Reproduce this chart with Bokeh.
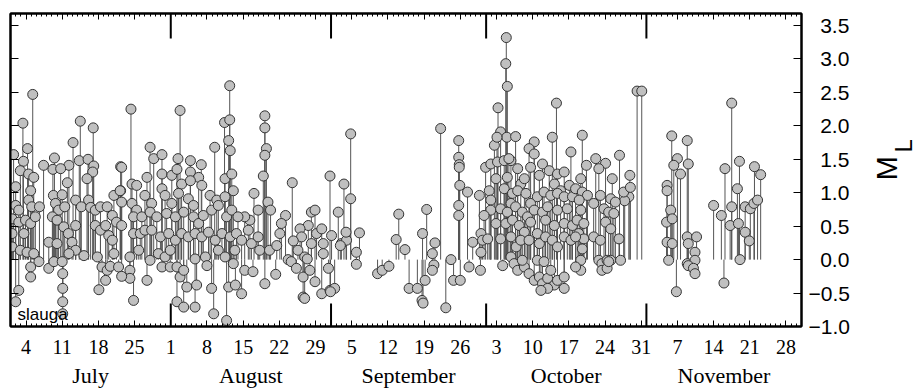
import math
from bokeh.plotting import figure
from bokeh.layouts import row, column
from bokeh.models import Range1d, LinearAxis, FixedTicker, Label
from bokeh.core.properties import value
from bokeh.embed import file_html
from bokeh.resources import INLINE

# ---------------- data ----------------
# event time: days since 1 July (fractional), local magnitude M_L
day = [
    # July
    4.3, 2.4, 13.5, 16.0, 12.1, 3.3, 0.6, 8.5, 2.5, 6.4, 11.3, 13.3, 15.0, 16.1, 8.2, 9.7,
    1.9, 3.5, 4.5, 15.9, 11.0, 14.8, 21.3, 1.0, 3.9, 8.3, 10.0, 12.6, 15.1, 20.0, 21.3,
    1.0, 1.6, 3.5, 4.1, 5.6, 8.7, 9.3, 10.5, 13.7, 15.5, 16.4, 17.4, 18.7, 19.7, 20.5,
    0.3, 1.6, 2.9, 3.9, 4.8, 8.1, 9.0, 10.3, 11.2, 12.6, 16.4, 17.4, 18.4, 19.0, 19.7,
    0.3, 2.6, 7.4, 9.0, 11.9, 12.6, 0.3, 1.9, 3.2, 4.5, 5.5, 3.9, 7.4, 8.4, 10.0, 11.3,
    14.2, 10.1, 10.1, 10.1, 10.1, 16.8, 17.7, 18.7, 18.4, 17.1, 3.9, 1.6, 1.0, 20.0, 19.3,
    # late July - mid August
    42.4, 23.3, 32.8, 41.4, 42.4, 39.5, 42.2, 42.5, 27.0, 27.7, 29.3, 32.4, 34.8, 36.9,
    21.5, 29.3, 31.2, 32.2, 34.8, 36.4, 26.4, 41.5, 42.8, 23.5, 24.4, 33.1, 34.8, 37.0,
    21.2, 21.5, 26.0, 27.3, 29.3, 29.9, 31.2, 32.5, 34.4, 35.4, 38.6, 39.9, 41.5, 43.1,
    23.5, 24.4, 23.8, 25.4, 27.0, 28.3, 30.2, 31.9, 33.5, 35.4, 36.4, 37.3, 38.9, 40.2,
    41.8, 42.8, 21.5, 23.8, 25.1, 26.0, 27.3, 29.0, 30.6, 31.9, 33.1, 34.4, 35.7, 37.0,
    38.3, 39.6, 40.9, 42.5, 20.9, 23.1, 23.1, 23.8, 23.1, 24.8, 26.4, 27.0, 28.6, 29.9,
    30.9, 29.3, 30.9, 32.2, 32.8, 33.5, 32.2, 33.5, 35.7, 34.1, 36.0, 35.7, 37.7, 38.0,
    38.9, 39.3, 40.2, 41.5, 42.2, 43.5, 41.8, 21.5,
    # mid August - early September
    49.2, 49.2, 49.5, 49.2, 48.9, 54.5, 61.8, 47.1, 49.8, 50.3, 47.9, 46.3, 45.3, 44.0,
    53.2, 52.4, 52.1, 58.2, 58.9, 57.6, 59.2, 60.2, 56.0, 56.3, 63.4, 62.1, 64.0, 65.0,
    43.7, 44.7, 46.0, 46.6, 47.9, 48.2, 50.1, 51.5, 54.7, 55.6, 56.9, 58.2, 60.5, 60.5,
    61.5, 43.4, 43.1, 44.7, 45.3, 46.9, 49.2, 51.3, 53.7, 54.3, 55.3, 56.6, 57.9, 58.9,
    56.6, 56.9, 60.2, 61.8, 62.7, 57.4, 63.8, 61.9,
    # September
    65.8, 64.5, 65.8, 67.5, 66.9, 66.9, 64.9, 71.0, 71.9, 73.2, 75.1, 74.6, 76.3, 77.1,
    78.7, 80.2, 79.6, 79.8, 80.5, 79.7, 81.6, 82.1, 81.9, 81.6, 83.2, 84.2, 85.2, 85.7,
    86.7, 86.7, 86.8, 86.8, 86.9, 86.7, 86.7,
    # October
    95.9, 95.8, 96.1, 94.3, 105.6, 94.8, 96.0, 97.7, 93.6, 101.3, 100.3, 101.3, 104.8,
    108.4, 88.4, 91.9, 92.9, 94.2, 95.5, 96.8, 98.1, 93.9, 96.1, 98.7, 99.4, 100.6, 102.3,
    102.9, 104.2, 105.8, 107.1, 105.2, 106.4, 108.1, 90.7, 92.6, 92.9, 95.5, 97.1, 98.1,
    96.8, 99.7, 100.6, 101.9, 103.2, 104.5, 105.8, 107.1, 108.7, 92.9, 94.8, 96.1, 97.7,
    99.0, 100.0, 101.3, 102.9, 103.9, 105.8, 107.7, 91.6, 93.9, 95.8, 97.1, 98.4, 99.4,
    100.6, 101.9, 103.5, 105.2, 107.1, 108.7, 89.4, 91.0, 91.3, 92.3, 91.0, 94.8, 96.8,
    97.8, 98.7, 100.3, 102.3, 103.5, 104.8, 105.8, 107.1, 108.4, 88.7, 90.9, 95.2, 96.8,
    97.4, 98.1, 99.4, 100.3, 101.3, 102.3, 102.9, 103.9, 104.5, 105.2, 105.8, 107.1,
    107.1, 103.9, 102.6, 99.0, 101.9, 103.2, 87.0, 96.4, 94.1,
    # late October
    121.2, 122.1, 110.6, 113.2, 115.1, 113.8, 111.4, 117.8, 119.8, 119.6, 118.8, 110.3,
    109.3, 110.6, 111.6, 110.0, 112.8, 114.1, 114.8, 115.7, 116.7, 110.3, 109.6, 110.9,
    109.9, 110.9, 109.3, 115.1, 116.1, 117.7, 112.8, 114.1, 110.6, 110.3, 110.3, 109.3,
    113.8, 114.4, 114.4, 115.4, 116.1, 118.0, 116.4, 116.1, 117.0, 118.6, 119.9, 115.4,
    115.7,
    # November
    127.9, 129.0, 128.3, 130.9, 129.6, 127.0, 127.0, 127.7, 126.9, 128.0, 127.0, 128.0,
    127.3, 128.8, 130.9, 130.9, 131.1, 132.7, 131.1, 132.4, 132.4, 131.1, 132.1, 132.4,
    136.0, 137.5, 138.2, 138.0, 139.5, 139.5, 139.2, 141.0, 140.6, 140.8, 141.1, 142.1,
    143.1, 142.1, 142.9, 143.9, 145.1, 143.8, 144.5,
]
ml = [
    # July
    2.47, 2.04, 2.07, 1.97, 1.75, 1.66, 1.57, 1.52, 1.47, 1.41, 1.41, 1.48, 1.50, 1.40, 1.35, 1.36,
    1.33, 1.28, 1.23, 1.31, 1.15, 1.21, 1.39, 1.09, 1.03, 0.96, 0.97, 0.89, 0.89, 0.96, 1.03,
    0.81, 0.74, 0.89, 0.79, 0.79, 0.84, 0.74, 0.79, 0.79, 0.78, 0.74, 0.79, 0.79, 0.66, 0.56,
    0.61, 0.56, 0.59, 0.54, 0.64, 0.64, 0.59, 0.49, 0.39, 0.51, 0.51, 0.44, 0.51, 0.36, 0.29,
    0.39, 0.39, 0.26, 0.24, 0.26, 0.14, 0.19, 0.14, 0.11, 0.09, -0.03, -0.11, -0.13, -0.03, -0.03, 0.09,
    0.06, -0.21, -0.43, -0.63, -0.81, 0.04, -0.11, -0.16, -0.31, -0.45, -0.26, -0.46, -0.63, 0.09, -0.10,
    # late July - mid August
    2.60, 2.25, 2.23, 2.05, 2.09, 1.68, 1.78, 1.63, 1.68, 1.51, 1.57, 1.51, 1.48, 1.42,
    1.38, 1.28, 1.26, 1.35, 1.31, 1.23, 1.23, 1.21, 1.28, 1.13, 1.11, 1.13, 1.18, 1.11,
    1.03, 0.86, 0.96, 0.84, 1.06, 0.96, 0.84, 0.99, 0.91, 0.81, 0.96, 0.89, 0.94, 1.03,
    0.84, 0.74, 0.64, 0.64, 0.71, 0.64, 0.69, 0.64, 0.71, 0.64, 0.54, 0.66, 0.74, 0.81,
    0.64, 0.74, 0.51, 0.39, 0.39, 0.44, 0.44, 0.34, 0.39, 0.29, 0.39, 0.34, 0.39, 0.34,
    0.41, 0.29, 0.39, 0.34, -0.11, -0.16, -0.28, -0.61, 0.04, 0.14, -0.31, -0.01, 0.09, 0.04,
    0.14, -0.11, -0.11, -0.11, -0.26, -0.16, -0.63, -0.71, -0.71, -0.41, -0.38, 0.01, 0.04, -0.09,
    -0.43, -0.81, 0.14, 0.04, -0.41, -0.38, -0.91, -0.25,
    # mid August - early September
    2.15, 1.97, 1.66, 1.56, 1.25, 1.15, 1.25, 0.99, 0.86, 0.74, 0.74, 0.59, 0.64, 0.64,
    0.66, 0.54, 0.39, 0.71, 0.74, 0.51, 0.39, 0.46, 0.46, 0.34, 0.71, 0.36, 0.24, 0.29,
    0.39, 0.29, 0.44, 0.24, 0.34, 0.14, 0.14, 0.21, 0.28, 0.14, 0.04, 0.24, 0.24, 0.09,
    -0.13, 0.14, -0.06, -0.51, -0.16, -0.18, -0.36, -0.22, 0.00, -0.03, -0.13, -0.26, -0.16, -0.33,
    -0.56, -0.58, -0.51, -0.46, -0.43, 0.01, 0.21, -0.48,
    # September
    1.88, 1.13, 0.91, 0.40, 0.11, -0.07, 0.41, -0.21, -0.16, -0.10, 0.68, 0.30, 0.15, -0.43,
    -0.43, -0.31, -0.61, -0.65, 0.75, 0.39, 0.09, 0.25, -0.08, -0.16, 1.96, -0.72, 0.00, -0.31,
    1.78, 1.53, 1.42, 1.38, 1.11, 0.81, 0.66,
    # October
    3.32, 2.93, 2.59, 2.27, 2.34, 1.91, 1.83, 1.84, 1.71, 1.76, 1.66, 1.58, 1.83,
    1.61, 1.01, 1.38, 1.43, 1.46, 1.48, 1.48, 1.36, 1.21, 1.23, 1.13, 1.21, 1.38, 1.26,
    1.43, 1.33, 1.28, 1.31, 1.13, 1.03, 1.11, 0.96, 1.03, 0.89, 1.06, 0.99, 1.03,
    0.84, 0.99, 0.84, 0.94, 1.01, 0.96, 0.99, 0.94, 0.94, 0.74, 0.76, 0.71, 0.79,
    0.71, 0.64, 0.74, 0.71, 0.79, 0.74, 0.76, 0.66, 0.54, 0.54, 0.59, 0.51, 0.41,
    0.56, 0.39, 0.59, 0.51, 0.54, 0.51, 0.26, 0.39, 0.29, 0.31, 0.11, 0.31, 0.34,
    0.19, 0.29, 0.29, 0.24, 0.34, 0.29, 0.19, 0.34, 0.29, -0.11, -0.16, -0.09, 0.04,
    -0.06, -0.16, -0.11, -0.21, -0.31, -0.26, -0.36, -0.28, -0.16, -0.38, -0.31, -0.26,
    -0.43, -0.43, -0.46, -0.01, -0.01, -0.03, -0.31, 1.51, 1.83,
    # late October
    2.52, 2.52, 1.86, 1.51, 1.44, 1.36, 1.41, 1.56, 1.26, 0.94, 0.88, 1.21,
    1.06, 1.01, 0.96, 0.89, 0.84, 0.96, 0.76, 0.71, 0.69, 0.74, 0.59, 0.54,
    0.39, 0.31, 0.34, 0.56, 0.46, 0.31, 0.34, 0.29, 0.16, -0.01, -0.16, -0.11,
    -0.01, -0.06, -0.16, -0.01, -0.01, -0.01, 1.21, 0.91, 0.86, 1.01, 1.08, -0.13,
    -0.03,
    # November
    1.85, 1.51, 1.41, 1.78, 1.28, 1.11, 1.03, 0.74, 0.56, 0.61, 0.26, 0.24,
    -0.01, -0.48, 0.34, -0.06, 1.43, 0.34, 0.24, 0.11, -0.01, -0.09, -0.13, -0.21,
    0.81, 0.66, 1.36, -0.35, 2.34, 0.79, 0.51, 1.47, 1.06, 0.54, 0.00, 0.79,
    0.76, 0.41, 0.28, 1.39, 1.27, 0.84, 0.89,
]

month_names = ["July", "August", "September", "October", "November"]
month_lengths = [31, 31, 30, 31, 30]
week_labels = ["4", "11", "18", "25", "1", "8", "15", "22", "29", "5", "12", "19", "26",
               "3", "10", "17", "24", "31", "7", "14", "21", "28"]
first_week_day = 3          # 4 July = 3 days after 1 July
y_ticks = [-1.0, -0.5, 0.0, 0.5, 1.0, 1.5, 2.0, 2.5, 3.0, 3.5]
station = "slauga"
y_title_main, y_title_sub = "M", "L"

# ---------------- derived positions ----------------
month_starts = [0]
for n in month_lengths:
    month_starts.append(month_starts[-1] + n)
month_mid = [(a + b) / 2 for a, b in zip(month_starts[:-1], month_starts[1:])]
week_ticks = [first_week_day + 7 * i for i in range(len(week_labels))]
day_ticks = list(range(month_starts[0], month_starts[-1] + 1))

Y0, Y1 = -1.0, 3.68
FRAME_H = 313
px = (Y1 - Y0) / FRAME_H

FONT = "Liberation Sans"
NARROW = "Liberation Sans Narrow"

MAIN_W, SIDE_W = 853, 64
TOP_H, MONTH_H = 362, 26

x_range = Range1d(month_starts[0], month_starts[-1])
p = figure(width=MAIN_W, height=TOP_H,
           x_range=x_range, y_range=Range1d(Y0, Y1),
           output_backend="svg", toolbar_location=None,
           y_axis_location="right",
           min_border_left=10, min_border_right=52,
           min_border_top=13, min_border_bottom=TOP_H - 13 - FRAME_H)
p.xgrid.visible = False
p.ygrid.visible = False
p.outline_line_color = "black"
p.outline_line_width = 2
p.background_fill_color = "white"
p.border_fill_color = "white"

# stems from 0 and markers
zeros = [0.0] * len(day)
p.segment(x0=day, y0=zeros, x1=day, y1=ml, line_color="#555555", line_width=1)
p.scatter(x=day, y=ml, marker="circle", size=10, fill_color="#c0c0c0",
          line_color="#333333", line_width=1)

# long ticks at month boundaries (top & bottom, inside)
inner = month_starts[1:-1]
p.segment(x0=inner, y0=[Y0] * len(inner), x1=inner, y1=[Y0 + 23 * px] * len(inner),
          line_color="black", line_width=2)
p.segment(x0=inner, y0=[Y1] * len(inner), x1=inner, y1=[Y1 - 25 * px] * len(inner),
          line_color="black", line_width=2)

def style_x(ax, show):
    ax.ticker = FixedTicker(ticks=week_ticks, minor_ticks=day_ticks)
    ax.major_tick_in = 6
    ax.major_tick_out = 0
    ax.minor_tick_in = 3
    ax.minor_tick_out = 0
    ax.axis_line_width = 2
    ax.major_tick_line_width = 1
    ax.minor_tick_line_width = 1
    if show:
        ax.major_label_overrides = {t: l for t, l in zip(week_ticks, week_labels)}
        ax.major_label_text_font = NARROW
        ax.major_label_text_font_size = "20px"
        ax.major_label_text_color = "black"
        ax.major_label_standoff = 13
    else:
        ax.major_label_overrides = {t: "" for t in week_ticks}
        ax.major_label_text_font_size = "0px"
        ax.major_label_standoff = 0

style_x(p.xaxis[0], True)
top_axis = LinearAxis()
style_x(top_axis, False)
p.add_layout(top_axis, "above")

def style_y(ax, show):
    ax.ticker = FixedTicker(ticks=y_ticks, minor_ticks=[])
    ax.major_tick_in = 8
    ax.major_tick_out = 0
    ax.minor_tick_in = 0
    ax.minor_tick_out = 0
    ax.axis_line_width = 2
    ax.major_tick_line_width = 1
    if show:
        labels = {}
        for t in y_ticks:
            s = f"{abs(t):.1f}"
            labels[t] = ("\u2212" + s) if t < 0 else ("\u2007" + s)
        ax.major_label_overrides = labels
        ax.major_label_text_font = FONT
        ax.major_label_text_font_size = "21px"
        ax.major_label_text_color = "black"
        ax.major_label_standoff = 7
    else:
        ax.major_label_overrides = {t: "" for t in y_ticks}
        ax.major_label_text_font_size = "0px"
        ax.major_label_standoff = 0

style_y(p.yaxis[0], True)
left_axis = LinearAxis()
style_y(left_axis, False)
p.add_layout(left_axis, "left")

# station name
p.add_layout(Label(x=7, y=3, x_units="screen", y_units="screen", text=station,
                   text_align="left", text_baseline="bottom",
                   text_font=FONT, text_font_size="17px", text_color="black"))

# right strip: the rotated axis title M with subscript L
side = figure(width=SIDE_W, height=TOP_H, x_range=Range1d(0, SIDE_W), y_range=Range1d(0, TOP_H),
              output_backend="svg", toolbar_location=None,
              x_axis_location=None, y_axis_location=None,
              min_border_left=0, min_border_right=0, min_border_top=0, min_border_bottom=0)
side.outline_line_color = None
side.xgrid.visible = False
side.ygrid.visible = False
side.text(x=[33], y=[TOP_H - 179], text=[y_title_main], angle=math.pi / 2,
          text_align="center", text_baseline="middle",
          text_font=value(FONT), text_font_size=value("29px"), text_color="black")
side.text(x=[50], y=[TOP_H - 153], text=[y_title_sub], angle=math.pi / 2,
          text_align="center", text_baseline="middle",
          text_font=value(FONT), text_font_size=value("24px"), text_color="black")

# bottom strip: month names centred in each month, on the main x scale
months = figure(width=MAIN_W + SIDE_W, height=MONTH_H, x_range=x_range, y_range=Range1d(0, MONTH_H),
                output_backend="svg", toolbar_location=None,
                x_axis_location=None, y_axis_location=None,
                min_border_left=10, min_border_right=52 + SIDE_W,
                min_border_top=0, min_border_bottom=0)
months.outline_line_color = None
months.xgrid.visible = False
months.ygrid.visible = False
months.text(x=month_mid, y=[MONTH_H / 2] * len(month_mid), text=month_names,
            text_align="center", text_baseline="middle",
            text_font=value(NARROW), text_font_size=value("22px"), text_color="black")

layout = column(row(p, side), months)
open("out.html", "w").write(file_html(layout, INLINE))
